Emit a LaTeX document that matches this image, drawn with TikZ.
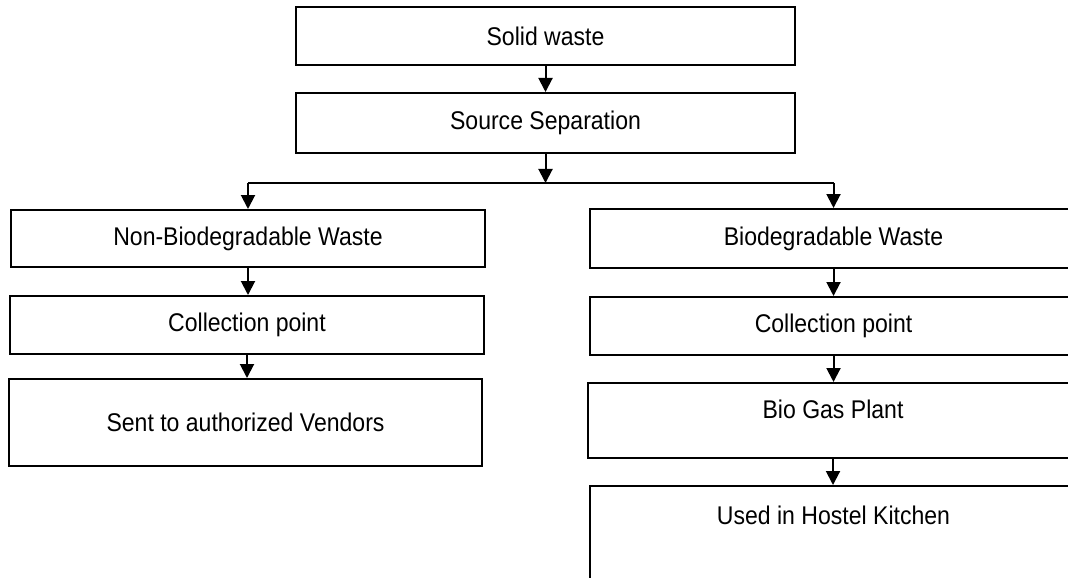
\documentclass[tikz,border=0pt]{standalone}
\usepackage{fontspec}
\setmainfont[FakeStretch=0.9]{Liberation Sans}
\usepackage{tikz}
\usetikzlibrary{positioning,arrows.meta,calc}
\definecolor{ink}{HTML}{000000}
\tikzset{
  blk/.style={draw=ink, line width=1pt, rectangle, inner sep=0pt, text=ink, font=\fontsize{12.8}{15}\selectfont},
  flow/.style={-{Triangle[width=7pt,length=7pt]}, ink, line width=1pt},
}
\begin{document}
\begin{tikzpicture}[x=0.5pt, y=-0.5pt]
\useasboundingbox (0,0) rectangle (1068,577);
\clip (0,0) rectangle (1068,577);
% top of the chart
\node[blk, minimum width=249.5pt, minimum height=29pt] (sw) at (545.5,36) {Solid waste};
\node[blk, minimum width=249.5pt, minimum height=30pt] (ss) at (545.5,123) {Source Separation};
% left branch
\node[blk, minimum width=237pt, minimum height=28.5pt] (nb) at (248,238.5) {Non-Biodegradable Waste};
\node[blk, minimum width=237pt, minimum height=29pt] (lc) at (247,325) {Collection point};
\node[blk, minimum width=236.5pt, minimum height=43.5pt] (sv) at (245.5,422.5) {Sent to authorized Vendors};
% right branch
\node[blk, minimum width=243.5pt, minimum height=29.5pt] (bw) at (833.5,238.5) {Biodegradable Waste};
\node[blk, minimum width=243.5pt, minimum height=29pt] (rc) at (833.5,326) {Collection point};
\node[blk, minimum width=245pt, text height=17.6pt, text depth=19.9pt, anchor=north] (bg) at (833,382) {Bio Gas Plant};
\node[blk, minimum width=243.5pt, text height=19pt, text depth=48.5pt, anchor=north] (hk) at (833.5,485) {Used in Hostel Kitchen};
% connectors
\coordinate (split) at (545.5,183);
\draw[flow] (sw) -- (ss);
\draw[flow] (ss) -- (split);
\draw[ink, line width=1pt] (nb.north |- split) -- (bw.north |- split);
\draw[flow] (nb.north |- split) -- (nb);
\draw[flow] (bw.north |- split) -- (bw);
\draw[flow] (nb) -- (nb |- lc.north);
\draw[flow] (lc) -- (lc |- sv.north);
\draw[flow] (bw) -- (bw |- rc.north);
\draw[flow] (rc) -- (rc |- bg.north);
\draw[flow] (bg) -- (bg |- hk.north);
\end{tikzpicture}
\end{document}
